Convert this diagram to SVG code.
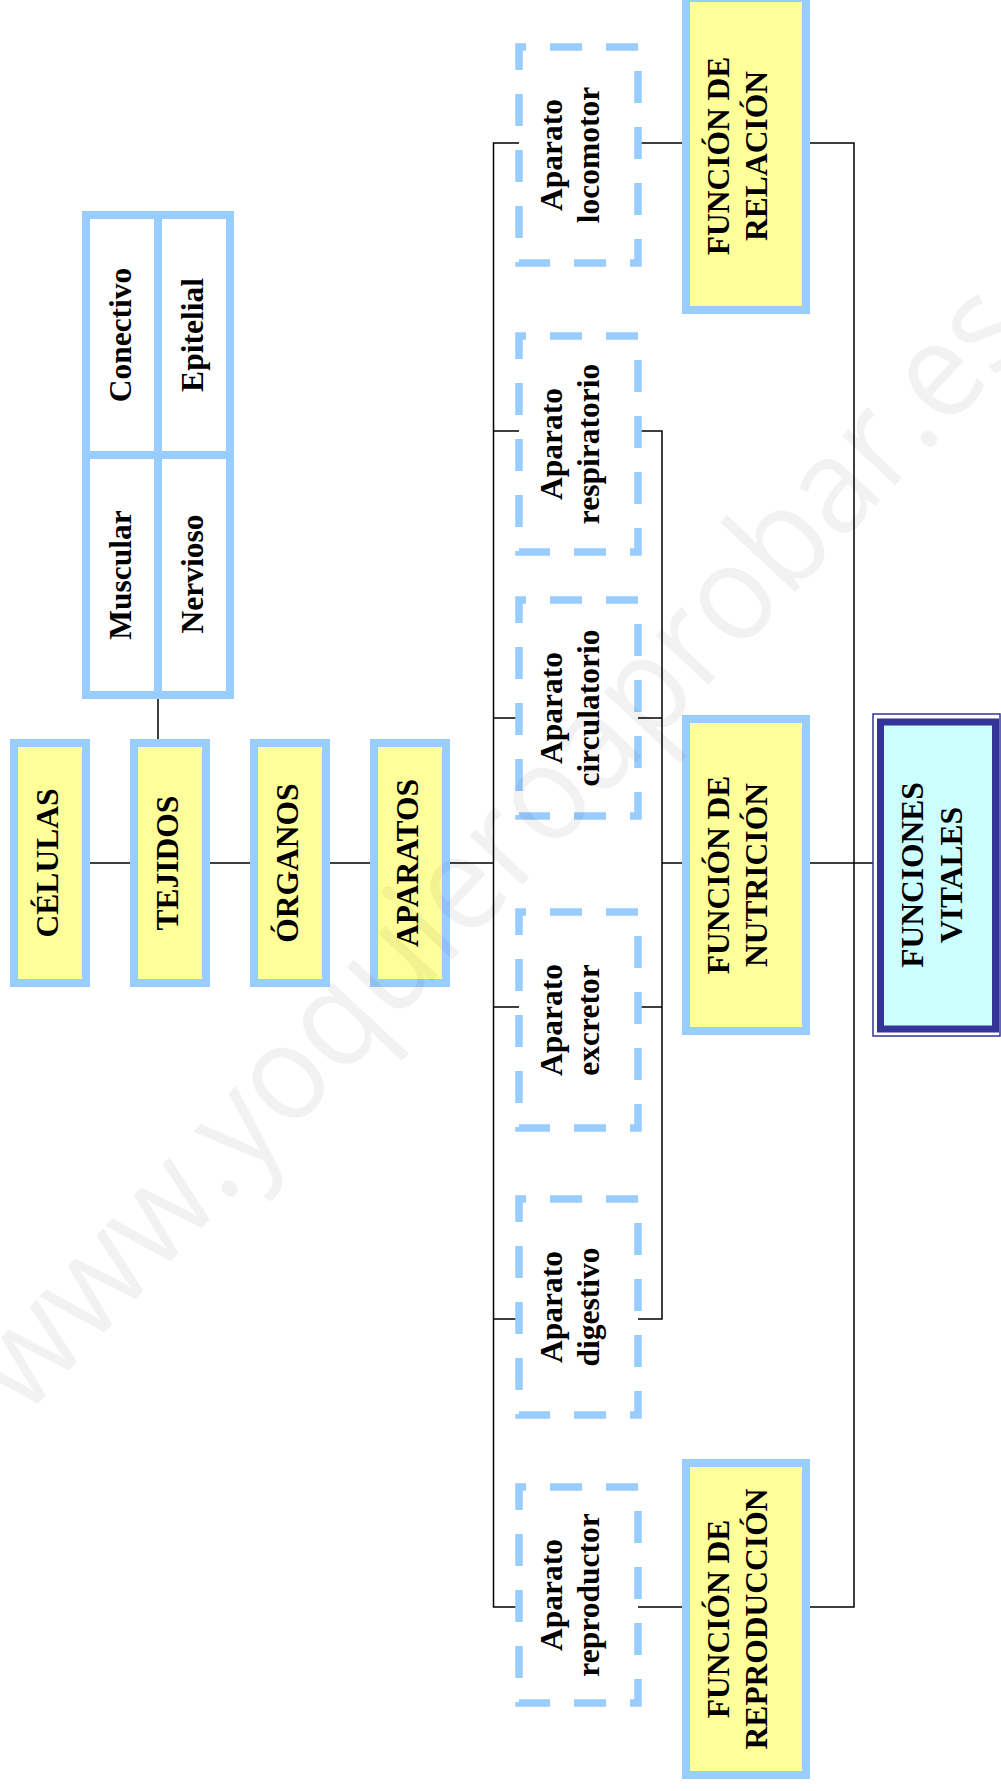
<svg xmlns="http://www.w3.org/2000/svg" width="1001" height="1791" viewBox="0 0 1001 1791">
<style>
.box{fill:#ffff99;stroke:#99ccff;stroke-width:8}
.dash{fill:#ffffff;stroke:#99ccff;stroke-width:7.5;stroke-dasharray:32 24;stroke-dashoffset:25}
.tbl{fill:#ffffff;stroke:#99ccff;stroke-width:8}
.t{font-family:"Liberation Serif","Times New Roman",serif;font-weight:bold;font-size:31.5px;text-anchor:middle;fill:#000000}
.c{fill:none;stroke:#000000;stroke-width:1.5}
</style>
<rect x="0" y="0" width="1001" height="1791" fill="#ffffff"/>
<g id="connectors">
<path class="c" d="M86 863H135M206 863H255M326 863H375M446 863H493.5M158 699V739"/>
<path class="c" d="M519 143H493.5V1607H519M493.5 431H519M493.5 718H519M493.5 1007H519M493.5 1319H519"/>
<path class="c" d="M637 143H687M637 1607H687"/>
<path class="c" d="M637 431H662V1319H637M637 718H662M637 1007H662M662 863H687"/>
<path class="c" d="M805 143H854V1607H805M806 863H879"/>
</g>
<g id="celulas">
<rect class="box" x="14" y="743" width="72" height="240"/>
<text class="t" transform="translate(58,863) rotate(-90)">CÉLULAS</text>
</g>
<g id="tejidos">
<rect class="box" x="134" y="743" width="72" height="240"/>
<text class="t" transform="translate(178,863) rotate(-90)">TEJIDOS</text>
</g>
<g id="organos">
<rect class="box" x="254" y="743" width="72" height="240"/>
<text class="t" transform="translate(298,863) rotate(-90)">ÓRGANOS</text>
</g>
<g id="aparatos">
<rect class="box" x="374" y="743" width="72" height="240"/>
<text class="t" transform="translate(418,863) rotate(-90)">APARATOS</text>
</g>
<g id="tipos-tejidos">
<rect class="tbl" x="86" y="215" width="144" height="480"/>
<path d="M158 215V695M86 455H230" fill="none" stroke="#99ccff" stroke-width="8"/>
<text class="t" transform="translate(131,335) rotate(-90)">Conectivo</text>
<text class="t" transform="translate(203,335) rotate(-90)">Epitelial</text>
<text class="t" transform="translate(131,575) rotate(-90)">Muscular</text>
<text class="t" transform="translate(203,574) rotate(-90)">Nervioso</text>
</g>
<g id="ap-locomotor">
<rect class="dash" x="519" y="47" width="119" height="216"/>
<text class="t" transform="translate(562,155) rotate(-90)"><tspan x="0">Aparato</tspan><tspan x="0" dy="37">locomotor</tspan></text>
</g>
<g id="ap-respiratorio">
<rect class="dash" x="519" y="336" width="119" height="216"/>
<text class="t" transform="translate(562,444) rotate(-90)"><tspan x="0">Aparato</tspan><tspan x="0" dy="37">respiratorio</tspan></text>
</g>
<g id="ap-circulatorio">
<rect class="dash" x="519" y="600" width="119" height="216"/>
<text class="t" transform="translate(562,708) rotate(-90)"><tspan x="0">Aparato</tspan><tspan x="0" dy="37">circulatorio</tspan></text>
</g>
<g id="ap-excretor">
<rect class="dash" x="519" y="912" width="119" height="216"/>
<text class="t" transform="translate(562,1020) rotate(-90)"><tspan x="0">Aparato</tspan><tspan x="0" dy="37">excretor</tspan></text>
</g>
<g id="ap-digestivo">
<rect class="dash" x="519" y="1199" width="119" height="216"/>
<text class="t" transform="translate(562,1307) rotate(-90)"><tspan x="0">Aparato</tspan><tspan x="0" dy="37">digestivo</tspan></text>
</g>
<g id="ap-reproductor">
<rect class="dash" x="519" y="1487" width="119" height="216"/>
<text class="t" transform="translate(562,1595) rotate(-90)"><tspan x="0">Aparato</tspan><tspan x="0" dy="37">reproductor</tspan></text>
</g>
<g id="f-relacion">
<rect class="box" x="686" y="-2" width="120" height="312"/>
<text class="t" transform="translate(729,156) rotate(-90)"><tspan x="0">FUNCIÓN DE</tspan><tspan x="0" dy="38">RELACIÓN</tspan></text>
</g>
<g id="f-nutricion">
<rect class="box" x="686" y="719" width="120" height="312"/>
<text class="t" transform="translate(729,875) rotate(-90)"><tspan x="0">FUNCIÓN DE</tspan><tspan x="0" dy="38">NUTRICIÓN</tspan></text>
</g>
<g id="f-reproduccion">
<rect class="box" x="686" y="1463" width="120" height="312"/>
<text class="t" transform="translate(729,1619) rotate(-90)"><tspan x="0">FUNCIÓN DE</tspan><tspan x="0" dy="38">REPRODUCCIÓN</tspan></text>
</g>
<g id="funciones-vitales">
<rect x="873" y="714" width="127" height="322" fill="#ffffff" stroke="#333399" stroke-width="1.5"/>
<rect x="880.5" y="722" width="115" height="307" fill="#ccffff" stroke="#333399" stroke-width="7"/>
<text class="t" transform="translate(923,875) rotate(-90)"><tspan x="0">FUNCIONES</tspan><tspan x="0" dy="39">VITALES</tspan></text>
</g>
<text transform="translate(500,850) rotate(-47)" x="0" y="40" font-family="Open Sans, sans-serif" font-size="135" text-anchor="middle" fill="#000000" fill-opacity="0.05" textLength="1480" lengthAdjust="spacingAndGlyphs">www.yoquieroaprobar.es</text>
</svg>
